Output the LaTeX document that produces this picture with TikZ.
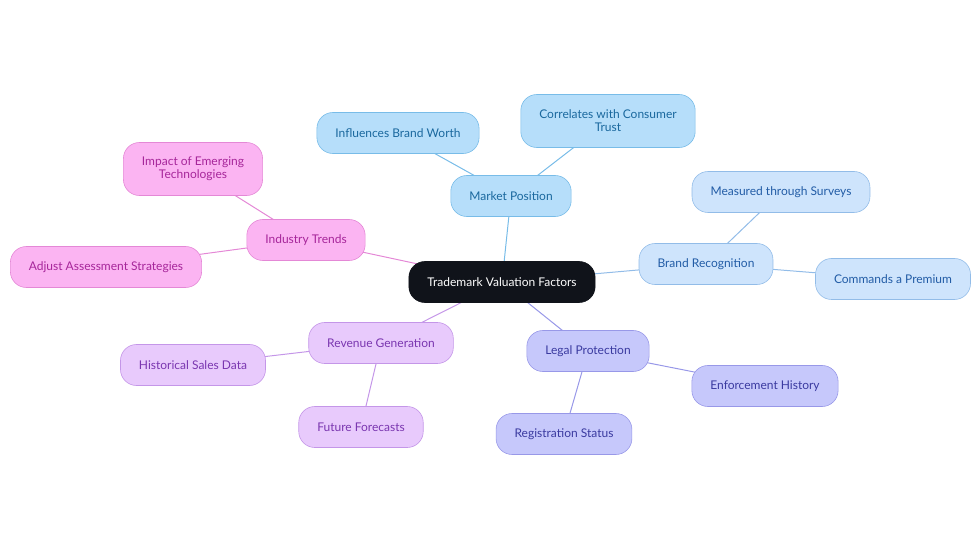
\documentclass[tikz,border=0pt]{standalone}
\usepackage{fontspec}
\setmainfont{Lato}
\usepackage{xcolor}
\usepackage{tikz}
\usetikzlibrary{backgrounds}
\definecolor{tmroot}{RGB}{16,19,26}
\definecolor{mktfill}{RGB}{182,222,250}
\definecolor{mktedge}{RGB}{120,188,232}
\definecolor{mktink}{RGB}{26,104,158}
\definecolor{brdfill}{RGB}{206,228,252}
\definecolor{brdedge}{RGB}{146,188,232}
\definecolor{brdink}{RGB}{34,92,166}
\definecolor{indfill}{RGB}{251,180,242}
\definecolor{indedge}{RGB}{228,136,214}
\definecolor{indink}{RGB}{166,38,154}
\definecolor{revfill}{RGB}{232,202,252}
\definecolor{revedge}{RGB}{196,150,232}
\definecolor{revink}{RGB}{122,54,176}
\definecolor{legfill}{RGB}{198,200,251}
\definecolor{legedge}{RGB}{152,152,232}
\definecolor{legink}{RGB}{58,58,160}
\tikzset{
  tmbox/.style={
    line width=0.6pt, rounded corners=16pt,
    align=center, inner xsep=18.5pt, inner ysep=4pt,
    font=\fontsize{12}{13}\selectfont, minimum height=41pt
  },
  root/.style={tmbox, fill=tmroot, draw=tmroot, text=white},
  mkt/.style={tmbox, fill=mktfill, draw=mktedge, text=mktink},
  brd/.style={tmbox, fill=brdfill, draw=brdedge, text=brdink},
  ind/.style={tmbox, fill=indfill, draw=indedge, text=indink},
  rev/.style={tmbox, fill=revfill, draw=revedge, text=revink},
  leg/.style={tmbox, fill=legfill, draw=legedge, text=legink},
  lnk/.style={line width=1pt}
}
\begin{document}
\begin{tikzpicture}[x=1pt, y=-1pt]
  \useasboundingbox (0,0) rectangle (980,553);
  \node[root] (tvf) at (502,282) {Trademark Valuation Factors};
  % market position
  \node[mkt] (mp) at (511,196) {Market Position};
  \node[mkt] (ibw) at (398,133) {Influences Brand Worth};
  \node[mkt, minimum height=53pt] (cct) at (608,121) {Correlates with Consumer\\Trust};
  % brand recognition
  \node[brd] (br) at (706,264) {Brand Recognition};
  \node[brd] (mts) at (781,192) {Measured through Surveys};
  \node[brd] (cap) at (893,279) {Commands a Premium};
  % industry trends
  \node[ind] (it) at (306,240) {Industry Trends};
  \node[ind, minimum height=53pt] (iet) at (193,169) {Impact of Emerging\\Technologies};
  \node[ind] (aas) at (106,267) {Adjust Assessment Strategies};
  % revenue generation
  \node[rev] (rg) at (381,343) {Revenue Generation};
  \node[rev] (hsd) at (193,365) {Historical Sales Data};
  \node[rev] (ff) at (361,427) {Future Forecasts};
  % legal protection
  \node[leg] (lp) at (588,351) {Legal Protection};
  \node[leg] (eh) at (765,386) {Enforcement History};
  \node[leg] (rs) at (564,434) {Registration Status};
  \begin{scope}[on background layer]
    \foreach \p/\q/\c in {tvf/mp/mktedge, mp/ibw/mktedge, mp/cct/mktedge,
      tvf/br/brdedge, br/mts/brdedge, br/cap/brdedge,
      tvf/it/indedge, it/iet/indedge, it/aas/indedge,
      tvf/rg/revedge, rg/hsd/revedge, rg/ff/revedge,
      tvf/lp/legedge, lp/eh/legedge, lp/rs/legedge}
      \draw[lnk, draw=\c] (\p.center) -- (\q.center);
  \end{scope}
\end{tikzpicture}
\end{document}
